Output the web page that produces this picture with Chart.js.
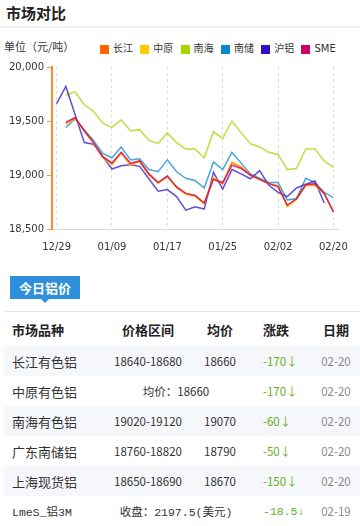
<!DOCTYPE html>
<html>
<head>
<meta charset="utf-8">
<script src="https://cdn.jsdelivr.net/npm/chart.js@4.4.1/dist/chart.umd.min.js"></script>
<style>
  html, body { margin: 0; padding: 0; background: #fff; }
  body { width: 360px; height: 526px; overflow: hidden; position: relative;
         font-family: "Noto Sans CJK SC", "Noto Sans", sans-serif; color: #333; }
  .title { position: absolute; left: 6px; top: 3px; font-size: 15px; font-weight: bold; line-height: 20px; color: #222; }
  .sep { position: absolute; left: 0; top: 26px; width: 360px; height: 2px; background: #f2f2f2; }
  .unit { position: absolute; left: 4px; top: 40px; font-size: 11px; line-height: 13px; }
  .legend { position: absolute; left: 100px; top: 43px; display: flex; }
  .legend .item { width: 40.3px; display: flex; align-items: center; font-size: 10px; line-height: 12px;
                  font-family: "DejaVu Sans", "Noto Sans CJK SC", sans-serif; }
  .legend .box { width: 9px; height: 9px; margin-right: 4px; }
  #wrap { position: absolute; left: 0; top: 55px; width: 360px; height: 210px; }
  .tab { position: absolute; left: 10px; top: 276px; width: 70px; height: 23px; background: #2e8fda;
         color: #fff; font-size: 13px; font-weight: bold; line-height: 23px; text-align: center; }
  .tab:after { content: ""; position: absolute; left: 31px; top: 23px; border-left: 4px solid transparent;
               border-right: 4px solid transparent; border-top: 4px solid #2e8fda; }
  .line2 { position: absolute; left: 4px; top: 311px; width: 356px; height: 1px; background: #e5e7ec; }
  table { position: absolute; left: 4px; top: 312px; width: 356px; border-collapse: collapse; table-layout: fixed; }
  td, th { padding: 0; white-space: nowrap; }
  th { height: 34px; font-size: 13px; font-weight: bold; color: #222; }
  td { height: 30px; font-size: 11.5px; }
  tr.g td { background: #f6f7fa; }
  .c1 { text-align: left; padding-left: 8px; font-size: 13px; }
  .c2, .c3, .c5 { text-align: center; }
  .c4 { text-align: left; padding-left: 15px; }
  td.c4 { color: #62b01e; }
  td.c5 { color: #8a8a8a; }
  td.mono { font-family: "Liberation Mono", "Noto Sans CJK SC", monospace; font-size: 11.5px; }
</style>
</head>
<body>
<div class="title">市场对比</div>
<div class="sep"></div>
<div class="unit">单位（元/吨）</div>
<div class="legend" id="legend"></div>
<div id="wrap"><canvas id="chart" width="360" height="210"></canvas></div>
<div class="tab">今日铝价</div>
<div class="line2"></div>
<table id="tbl">
  <colgroup><col style="width:100px"><col style="width:88px"><col style="width:56px"><col style="width:64px"><col style="width:48px"></colgroup>
  <tr><th class="c1">市场品种</th><th class="c2">价格区间</th><th class="c3">均价</th><th class="c4">涨跌</th><th class="c5">日期</th></tr>
</table>
<script>
// trading days on the x axis, only some are labelled
const dates = ['12/29','01/02','01/03','01/04','01/05','01/08','01/09','01/10','01/11','01/12',
  '01/15','01/16','01/17','01/18','01/19','01/22','01/23','01/24','01/25','01/26',
  '01/29','01/30','01/31','02/01','02/02','02/05','02/06','02/07','02/08','02/19','02/20'];
const shownDates = ['12/29','01/09','01/17','01/25','02/02','02/20'];
const yTicks = [18500, 19000, 19500, 20000];

const names = ['长江', '中原', '南海', '南储', '沪铝', 'SME'];
const colors = ['#ff6600', '#ffcc00', '#a6d400', '#0a88cc', '#3311cc', '#cc0066'];

const changjiang = [null,19480,19530,19410,19300,19170,19110,19210,19100,19130,
  19010,18930,18990,18890,18830,18810,18740,18960,18920,19110,
  19070,19000,18960,18920,18900,18720,18780,18910,18910,18830,18660];
const zhongyuan = [null,19470,19520,19410,19290,19160,19090,19200,19090,19120,
  19000,18920,18980,18880,18820,18800,18730,18980,18920,19120,
  19080,19000,18960,18920,18900,18700,18770,18900,18900,18830,18660];
const nanhai = [null,19740,19770,19650,19590,19480,19440,19510,19410,19420,
  19320,19290,19390,19300,19240,19240,19160,19400,19340,19500,
  19390,19290,19260,19210,19190,19050,19060,19240,19240,19130,19070];
const nanchu = [null,19440,19520,19420,19320,19200,19160,19260,19140,19150,
  19050,19030,19140,19030,18970,18950,18880,19120,19050,19210,
  19110,19010,18970,18930,18930,18770,18780,18970,18930,18840,18790];
const hulv = [19660,19820,19560,19300,19285,19170,19055,19085,19095,19080,
  18965,18850,18865,18800,18675,18705,18685,19025,18870,19050,
  19010,18965,19040,18905,18840,18800,18880,18915,18945,18740,null];
const sme = [null,19490,19530,19410,19300,19170,19110,19210,19110,19130,
  19010,18930,18990,18890,18830,18810,18740,18960,18930,19090,
  19060,19000,18960,18920,18890,18720,18780,18910,18920,18830,18660];
const series = [changjiang, zhongyuan, nanhai, nanchu, hulv, sme];
const drawOrder = [1, 2, 5, 4, 3, 0]; // lower = drawn on top

// today's price table
const tMarkets = ['长江有色铝', '中原有色铝', '南海有色铝', '广东南储铝', '上海现货铝', 'LmeS_铝3M'];
const tRanges = ['18640-18680', null, '19020-19120', '18760-18820', '18650-18690', null];
const tAvgs = ['18660', '均价：18660', '19070', '18790', '18670', '收盘：2197.5(美元)'];
const tChanges = ['-170', '-170', '-60', '-50', '-150', '-18.5'];
const tDates = ['02-20', '02-20', '02-20', '02-20', '02-20', '02-19'];

function alpha(hex, a) {
  const n = parseInt(hex.slice(1), 16);
  return 'rgba(' + (n >> 16) + ',' + ((n >> 8) & 255) + ',' + (n & 255) + ',' + a + ')';
}

// legend
const legend = document.getElementById('legend');
names.forEach((n, i) => {
  const it = document.createElement('div');
  it.className = 'item';
  it.innerHTML = '<span class="box" style="background:' + colors[i] + '"></span>' + n;
  legend.appendChild(it);
});

// table rows
const tbl = document.getElementById('tbl');
tMarkets.forEach((m, i) => {
  const tr = document.createElement('tr');
  if (i % 2 === 0) tr.className = 'g';
  const mono = i === 5 ? ' mono' : '';
  let html = '<td class="c1' + mono + '">' + m + '</td>';
  if (tRanges[i] === null) {
    html += '<td class="c2' + mono + '" colspan="2">' + tAvgs[i] + '</td>';
  } else {
    html += '<td class="c2">' + tRanges[i] + '</td><td class="c3">' + tAvgs[i] + '</td>';
  }
  html += '<td class="c4' + mono + '">' + tChanges[i] + '↓</td><td class="c5">' + tDates[i] + '</td>';
  tr.innerHTML = html;
  tbl.appendChild(tr);
});

Chart.defaults.font.family = 'DejaVu Sans';
Chart.defaults.font.size = 10;
Chart.defaults.color = '#333';

new Chart(document.getElementById('chart'), {
  type: 'line',
  data: {
    labels: dates,
    datasets: series.map((s, i) => ({
      label: names[i],
      data: s,
      borderColor: alpha(colors[i], 0.75),
      backgroundColor: colors[i],
      borderWidth: 1.5,
      pointRadius: 0,
      tension: 0,
      order: drawOrder[i]
    }))
  },
  options: {
    responsive: false,
    animation: false,
    devicePixelRatio: 1,
    layout: { padding: { left: 0, right: 11, top: 12, bottom: 0 } },
    plugins: { legend: { display: false }, tooltip: { enabled: false } },
    scales: {
      x: {
        offset: true,
        afterFit: s => { s.height = 36; },
        grid: {
          offset: false,
          drawTicks: false,
          color: ctx => shownDates.includes(dates[ctx.index]) ? '#dddddd' : 'rgba(0,0,0,0)'
        },
        border: { display: true, color: '#dddddd', width: 1, dash: [3, 3] },
        ticks: {
          autoSkip: false,
          maxRotation: 0,
          padding: 12,
          callback: (v, i) => shownDates.includes(dates[i]) ? dates[i] : ''
        }
      },
      y: {
        min: yTicks[0],
        max: yTicks[yTicks.length - 1],
        afterFit: s => { s.width = 52; },
        afterBuildTicks: s => { s.ticks = yTicks.map(v => ({ value: v })); },
        grid: { drawOnChartArea: false, tickLength: 5, tickColor: '#ff9933' },
        border: { color: '#ff8c2a', width: 2, z: 2 },
        ticks: {
          padding: 3,
          callback: v => v.toLocaleString('en-US')
        }
      }
    }
  }
});
</script>
</body>
</html>
